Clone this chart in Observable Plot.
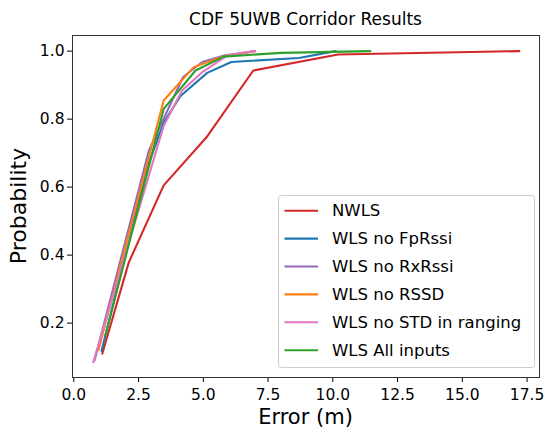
<!DOCTYPE html>
<html>
<head>
<meta charset="utf-8">
<script src="https://cdn.jsdelivr.net/npm/d3@7"></script>
<script src="https://cdn.jsdelivr.net/npm/@observablehq/plot@0.6"></script>
<style>
  html, body { margin: 0; padding: 0; background: #fff; }
  #chart { width: 545px; height: 436px; }
  svg { font-family: "DejaVu Sans", sans-serif; }
</style>
</head>
<body>
<div id="chart"></div>
<script>
const seriesNames = ["NWLS", "WLS no FpRssi", "WLS no RxRssi", "WLS no RSSD", "WLS no STD in ranging", "WLS All inputs"];
const seriesColors = ["#d62728", "#1f77b4", "#9467bd", "#ff7f0e", "#e377c2", "#2ca02c"];

const nwlsX = [1.1, 2.12, 3.47, 5.15, 6.93, 10.2, 17.2];
const nwlsY = [0.11, 0.378, 0.605, 0.749, 0.943, 0.99, 1.0];
const fpX = [1.07, 2.85, 3.47, 4.13, 5.15, 6.08, 8.7, 10.1];
const fpY = [0.118, 0.66, 0.79, 0.869, 0.936, 0.968, 0.98, 1.0];
const rxX = [0.8, 2.9, 4.22, 4.96, 5.8, 7.0];
const rxY = [0.09, 0.708, 0.924, 0.968, 0.987, 1.0];
const rssdX = [0.95, 3.47, 4.63, 5.8, 7.0];
const rssdY = [0.12, 0.855, 0.953, 0.985, 1.0];
const stdX = [0.75, 3.47, 4.18, 4.96, 5.92, 7.0];
const stdY = [0.085, 0.78, 0.884, 0.938, 0.987, 1.0];
const allX = [1.22, 3.47, 4.7, 5.79, 8.0, 11.45];
const allY = [0.164, 0.83, 0.943, 0.984, 0.995, 1.0];

const xTicks = [0, 2.5, 5, 7.5, 10, 12.5, 15, 17.5];
const yTicks = [0.2, 0.4, 0.6, 0.8, 1.0];

const allXs = [nwlsX, fpX, rxX, rssdX, stdX, allX];
const allYs = [nwlsY, fpY, rxY, rssdY, stdY, allY];
const rows = [];
allXs.forEach((xs, i) => xs.forEach((x, j) => rows.push({series: seriesNames[i], x, y: allYs[i][j]})));

const W = 545, H = 436;
const mL = 72, mR = 6, mT = 35, mB = 59;

const plot = Plot.plot({
  width: W, height: H,
  marginLeft: mL, marginRight: mR, marginTop: mT, marginBottom: mB,
  style: {fontFamily: "DejaVu Sans, sans-serif", fontSize: "15.5px", color: "#000", background: "#fff"},
  x: {domain: [-0.05, 17.98], ticks: xTicks, tickFormat: d3.format(".1f"), tickSize: 5, tickPadding: 6, label: null},
  y: {domain: [0.040, 1.046], ticks: yTicks, tickFormat: d3.format(".1f"), tickSize: 5, tickPadding: 3, label: null},
  color: {domain: seriesNames, range: seriesColors},
  marks: [
    Plot.line(rows, {x: "x", y: "y", z: "series", stroke: "series", strokeWidth: 2.1, strokeLinejoin: "miter"}),
    Plot.frame({stroke: "#333", strokeWidth: 1})
  ]
});

document.getElementById("chart").appendChild(plot);

const svg = d3.select(plot);
svg.selectAll("g[aria-label='x-axis tick label'] text, g[aria-label='y-axis tick label'] text")
  .attr("fill", "#000");

// title
svg.append("text").attr("x", (mL + W - mR) / 2).attr("y", 25)
  .attr("text-anchor", "middle").attr("font-size", "17px").attr("fill", "#000")
  .text("CDF 5UWB Corridor Results");
// x label
svg.append("text").attr("x", (mL + W - mR) / 2).attr("y", 424)
  .attr("text-anchor", "middle").attr("font-size", "21px").attr("fill", "#000")
  .text("Error (m)");
// y label
svg.append("text").attr("transform", `translate(26,${(mT + H - mB) / 2}) rotate(-90)`)
  .attr("text-anchor", "middle").attr("font-size", "22px").attr("fill", "#000")
  .text("Probability");

// legend
const lg = svg.append("g");
lg.append("rect").attr("x", 278.5).attr("y", 195.5).attr("width", 256).attr("height", 172)
  .attr("rx", 3).attr("fill", "#fff").attr("fill-opacity", 0.8).attr("stroke", "#ccc");
seriesNames.forEach((name, i) => {
  const yy = 210.7 + i * 27.9;
  lg.append("line").attr("x1", 284.5).attr("x2", 318).attr("y1", yy).attr("y2", yy)
    .attr("stroke", seriesColors[i]).attr("stroke-width", 2.1);
  lg.append("text").attr("x", 332).attr("y", yy).attr("dy", "0.35em")
    .attr("text-anchor", "start")
    .attr("font-size", "16.5px").attr("fill", "#000").text(name);
});
</script>
</body>
</html>
